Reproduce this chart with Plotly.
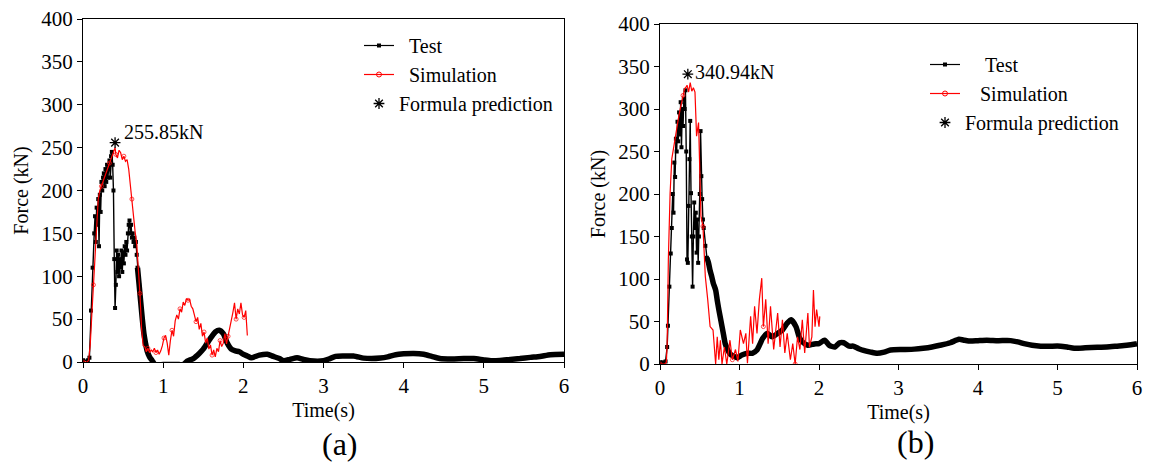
import plotly.graph_objects as go

# ---------------- (a) ----------------
t_test_a = [0, 0.06, 0.08, 0.10, 0.12, 0.14, 0.15, 0.16, 0.17, 0.18,
            0.19, 0.20, 0.21, 0.22, 0.23, 0.24, 0.25, 0.26, 0.27, 0.28,
            0.29, 0.30, 0.31, 0.32, 0.33, 0.34, 0.35, 0.36, 0.37, 0.38,
            0.39, 0.40, 0.41, 0.42, 0.43, 0.44, 0.45, 0.46, 0.47, 0.48,
            0.49, 0.50, 0.51, 0.52, 0.53, 0.54, 0.55, 0.56, 0.57, 0.58,
            0.59, 0.60, 0.61, 0.62, 0.63, 0.64, 0.65, 0.66, 0.67, 0.68,
            0.70, 0.72, 0.74, 0.76, 0.78, 0.80, 0.83, 0.86, 0.90, 1.00,
            1.10, 1.20, 1.25, 1.30, 1.375, 1.45, 1.50, 1.55, 1.60, 1.65,
            1.70, 1.75, 1.80, 1.85, 1.90, 1.95, 2.00, 2.05, 2.10, 2.20,
            2.30, 2.375, 2.45, 2.50, 2.58, 2.67, 2.75, 2.83, 3.00, 3.08,
            3.15, 3.25, 3.375, 3.50, 3.60, 3.71, 3.80, 3.90, 4.00, 4.125,
            4.25, 4.35, 4.45, 4.60, 4.75, 4.875, 5.00, 5.10, 5.20, 5.33,
            5.45, 5.58, 5.70, 5.83, 6.00]
f_test_a = [2, 2, 5, 60, 110, 150, 170, 140, 180, 160,
            190, 135, 195, 175, 210, 200, 215, 220, 205, 225,
            210, 230, 215, 225, 235, 215, 240, 245, 230, 200,
            120, 63, 90, 130, 105, 125, 100, 120, 110, 130,
            105, 128, 115, 135, 125, 140, 130, 150, 160, 165,
            150, 160, 145, 150, 140, 145, 135, 140, 125, 110,
            90, 70, 50, 33, 22, 13, 6, 2, -3, -3,
            -3, -3, -3, 1, 4, 10, 15, 22, 29, 35,
            37, 33, 22, 15, 13, 12, 9, 7, 5, 8,
            9, 6.5, 4, 1.5, 3, 5, 3, 1.5, 1.5, 4,
            6.5, 7, 7, 4.5, 4, 4.6, 6, 8.5, 9.5, 10,
            9, 6.5, 4, 3.5, 4, 4, 2.5, 1.5, 1.8, 3,
            4, 5.4, 6.5, 8.5, 9]

t_sim_a = [0, 0.05, 0.07, 0.09, 0.11, 0.13, 0.15, 0.17, 0.19, 0.21,
           0.23, 0.25, 0.27, 0.29, 0.31, 0.33, 0.35, 0.37, 0.39, 0.40,
           0.41, 0.43, 0.45, 0.47, 0.49, 0.51, 0.53, 0.55, 0.57, 0.59,
           0.61, 0.63, 0.65, 0.67, 0.69, 0.71, 0.73, 0.75, 0.77, 0.79,
           0.81, 0.83, 0.85, 0.87, 0.89, 0.91, 0.93, 0.95, 0.97, 0.99,
           1.01, 1.03, 1.05, 1.07, 1.09, 1.11, 1.13, 1.15, 1.17, 1.19,
           1.21, 1.23, 1.25, 1.27, 1.29, 1.31, 1.33, 1.35, 1.37, 1.39,
           1.41, 1.43, 1.45, 1.47, 1.49, 1.51, 1.53, 1.55, 1.57, 1.59,
           1.61, 1.63, 1.65, 1.67, 1.69, 1.71, 1.73, 1.75, 1.77, 1.79,
           1.81, 1.83, 1.85, 1.87, 1.89, 1.91, 1.93, 1.95, 1.97, 1.99,
           2.01, 2.03, 2.05]
f_sim_a = [0, 0, 2, 20, 55, 90, 120, 160, 190, 200,
           205, 210, 215, 222, 227, 232, 236, 240, 246, 250,
           242, 238, 247, 244, 236, 240, 234, 236, 225, 205,
           190, 172, 152, 138, 110, 80, 40, 19, 18, 12,
           16, 11, 14, 12, 16, 11, 14, 9, 13, 19,
           28, 31, 22, 8, 25, 37, 30, 48, 55, 50,
           62, 58, 70, 66, 74, 72, 73, 65, 62, 55,
           47, 52, 38, 45, 30, 35, 22, 28, 15, 20,
           8, 14, 6, 16, 12, 25, 18, 22, 33, 21,
           30, 40, 45, 58, 69, 50, 62, 56, 69, 55,
           52, 60, 31]

formula_t_a = 0.40
formula_f_a = 255.85

# ---------------- (b) ----------------
t_test_b = [0, 0.04, 0.07, 0.09, 0.10, 0.118, 0.135, 0.148, 0.16, 0.17,
            0.18, 0.19, 0.20, 0.21, 0.22, 0.23, 0.24, 0.25, 0.26, 0.27,
            0.28, 0.29, 0.30, 0.31, 0.32, 0.33, 0.34, 0.35, 0.36, 0.37,
            0.38, 0.39, 0.40, 0.41, 0.42, 0.43, 0.44, 0.45, 0.46, 0.47,
            0.48, 0.49, 0.50, 0.51, 0.52, 0.53, 0.54, 0.55, 0.57, 0.59,
            0.61, 0.63, 0.65, 0.67, 0.70, 0.72, 0.74, 0.76, 0.78, 0.80,
            0.82, 0.85, 0.88, 0.93, 0.97, 1.03, 1.10, 1.16, 1.22, 1.26,
            1.29, 1.35, 1.41, 1.48, 1.54, 1.60, 1.65, 1.71, 1.75, 1.79,
            1.86, 1.94, 2.00, 2.07, 2.13, 2.20, 2.26, 2.31, 2.38, 2.43,
            2.50, 2.56, 2.65, 2.73, 2.82, 2.90, 3.06, 3.20, 3.31, 3.42,
            3.52, 3.65, 3.76, 3.83, 3.90, 4.00, 4.11, 4.25, 4.41, 4.50,
            4.58, 4.68, 4.79, 4.90, 5.04, 5.12, 5.21, 5.35, 5.50, 5.62,
            5.75, 5.87, 5.98, 6.00]
f_test_b = [2, 2, 3, 20, 45, 91, 130, 160, 200, 178,
            237, 220, 265, 250, 285, 262, 296, 270, 308, 255,
            300, 280, 312, 300, 322, 250, 123, 119, 186, 241,
            286, 201, 150, 91, 150, 190, 160, 178, 131, 170,
            119, 150, 200, 274, 221, 194, 170, 160, 139, 125,
            119, 110, 103, 95, 87, 75, 64, 54, 44, 34,
            24, 17, 12, 9, 7.5, 10.6, 12.6, 12.6, 16.5, 24,
            30, 36, 32, 36, 40, 48, 52, 44, 32, 26,
            22, 23.6, 24, 28, 22, 20, 25, 25, 21, 21,
            18, 16, 14, 12.6, 14, 16.5, 17, 17.5, 18.5, 20,
            22, 25, 29, 28, 27, 27.5, 28, 27.5, 27.5, 26,
            24, 22, 21, 21, 21, 20, 18.5, 19, 19.7, 20,
            21, 22, 23.6, 24]

t_sim_b = [0, 0.06, 0.08, 0.09, 0.105, 0.127, 0.148, 0.17, 0.19, 0.21,
           0.23, 0.25, 0.27, 0.29, 0.31, 0.33, 0.34, 0.36, 0.38, 0.40,
           0.42, 0.44, 0.46, 0.485, 0.50, 0.515, 0.54, 0.57, 0.60, 0.63,
           0.667, 0.70, 0.72, 0.74, 0.76, 0.78, 0.81, 0.84, 0.88, 0.91,
           0.95, 0.98, 1.01, 1.05, 1.08, 1.10, 1.14, 1.165, 1.19, 1.22,
           1.25, 1.28, 1.30, 1.33, 1.36, 1.39, 1.43, 1.46, 1.48, 1.51,
           1.54, 1.57, 1.60, 1.64, 1.67, 1.70, 1.73, 1.76, 1.79, 1.82,
           1.86, 1.88, 1.91, 1.93, 1.95, 1.97, 2.00, 2.01]
f_sim_b = [0, 0, 2, 24, 123, 201, 241, 255, 268, 278,
           288, 298, 308, 316, 324, 326, 328, 320, 331, 321,
           325, 320, 268, 284, 237, 174, 162, 103, 76, 44,
           40, 0, 32, 5, 28, 0, 20, 0, 28, 5,
           17, 3, 40, 24, 36, 1, 56, 24, 68, 36,
           76, 101, 44, 76, 24, 68, 17, 44, 60, 20,
           52, 13, 36, 5, 24, 0, 32, 17, 52, 13,
           60, 20, 32, 87, 44, 64, 44, 56]

formula_t_b = 0.35
formula_f_b = 340.94

x_ticks = [0, 1, 2, 3, 4, 5, 6]
y_ticks = [0, 50, 100, 150, 200, 250, 300, 350, 400]

FONT = "Liberation Serif"
W, H = 1152, 462

fig = go.Figure()


def add_panel(xa, ya, lg, t_test, f_test, tail_from, t_sim, f_sim, every,
              ft, ff, nb_test, nb_sim):
    # test head (thin line with square markers)
    n_head = sum(1 for v in t_test if v <= tail_from)
    fig.add_trace(go.Scatter(
        x=t_test[:n_head + 1], y=f_test[:n_head + 1], xaxis=xa, yaxis=ya,
        mode="lines+markers", line=dict(color="black", width=1.4),
        marker=dict(symbol="square", size=4, color="black"),
        showlegend=False, hoverinfo="skip"))
    # test tail (dense record -> thick band)
    fig.add_trace(go.Scatter(
        x=t_test[n_head - 1:], y=f_test[n_head - 1:], xaxis=xa, yaxis=ya,
        mode="lines", line=dict(color="black", width=5.5, shape="spline",
                                smoothing=0.6),
        showlegend=False, hoverinfo="skip"))
    # simulation
    sizes = [4 if i % every == 0 else 0 for i in range(len(t_sim))]
    fig.add_trace(go.Scatter(
        x=t_sim, y=f_sim, xaxis=xa, yaxis=ya, mode="lines+markers",
        line=dict(color="#ff0000", width=1.2),
        marker=dict(symbol="circle-open", size=sizes, color="#ff0000",
                    line=dict(width=1)),
        showlegend=False, hoverinfo="skip"))
    # legend entries
    fig.add_trace(go.Scatter(
        x=[None], y=[None], xaxis=xa, yaxis=ya, mode="lines+markers",
        name="\u00a0" * nb_test + "Test", legend=lg,
        line=dict(color="black", width=1.2),
        marker=dict(symbol="square", size=4, color="black")))
    fig.add_trace(go.Scatter(
        x=[None], y=[None], xaxis=xa, yaxis=ya, mode="lines+markers",
        name="\u00a0" * nb_sim + "Simulation", legend=lg,
        line=dict(color="#ff0000", width=1.2),
        marker=dict(symbol="circle-open", size=5, color="#ff0000",
                    line=dict(width=1))))
    fig.add_trace(go.Scatter(
        x=[ft], y=[ff], xaxis=xa, yaxis=ya, mode="markers",
        name="Formula prediction", legend=lg,
        marker=dict(symbol="asterisk-open", size=9, color="black",
                    line=dict(width=1.3, color="black")),
        hoverinfo="skip"))


add_panel("x", "y", "legend", t_test_a, f_test_a, 0.68, t_sim_a, f_sim_a, 5,
          formula_t_a, formula_f_a, 2, 2)
add_panel("x2", "y2", "legend2", t_test_b, f_test_b, 0.59, t_sim_b, f_sim_b, 13,
          formula_t_b, formula_f_b, 4, 3)

fig.add_annotation(x=formula_t_a, y=formula_f_a, xref="x", yref="y",
                   text=f"{formula_f_a}kN", showarrow=False, xanchor="left",
                   yanchor="middle", xshift=7, yshift=11,
                   font=dict(family=FONT, size=20, color="black"))
fig.add_annotation(x=formula_t_b, y=formula_f_b, xref="x2", yref="y2",
                   text=f"{formula_f_b}kN", showarrow=False, xanchor="left",
                   yanchor="middle", xshift=5, yshift=2,
                   font=dict(family=FONT, size=20, color="black"))

fig.add_annotation(x=340 / W, y=1 - 444 / H, xref="paper", yref="paper",
                   text="(a)", showarrow=False, xanchor="center",
                   yanchor="middle", font=dict(family=FONT, size=32, color="black"))
fig.add_annotation(x=915 / W, y=1 - 442 / H, xref="paper", yref="paper",
                   text="(b)", showarrow=False, xanchor="center",
                   yanchor="middle", font=dict(family=FONT, size=32, color="black"))

axis_common = dict(showline=True, linecolor="black", linewidth=1.2,
                   mirror=True, ticks="outside", ticklen=5, tickwidth=1.2,
                   tickcolor="black", showgrid=False, zeroline=False,
                   automargin=False,
                   tickfont=dict(family=FONT, size=21, color="black"))

xcommon = dict(axis_common, range=[0, 6], tickvals=x_ticks,
               ticktext=[str(v) for v in x_ticks],
               title=dict(text="Time(s)", standoff=5,
                          font=dict(family=FONT, size=20, color="black")))
ycommon = dict(axis_common, range=[0, 400], tickvals=y_ticks,
               ticktext=[str(v) for v in y_ticks],
               title=dict(text="Force (kN)", standoff=7,
                          font=dict(family=FONT, size=20, color="black")))

fig.update_layout(
    width=W, height=H,
    margin=dict(l=0, r=0, t=0, b=0, autoexpand=False),
    paper_bgcolor="white", plot_bgcolor="white",
    xaxis=dict(xcommon, domain=[83 / W, 564 / W], anchor="y"),
    yaxis=dict(ycommon, domain=[(H - 362) / H, (H - 19) / H], anchor="x"),
    xaxis2=dict(xcommon, domain=[660 / W, 1137 / W], anchor="y2"),
    yaxis2=dict(ycommon, domain=[(H - 364) / H, (H - 24) / H], anchor="x2"),
    legend=dict(x=359 / W, y=1 - 26 / H, xanchor="left", yanchor="top",
                bgcolor="rgba(0,0,0,0)", borderwidth=0,
                font=dict(family=FONT, size=20, color="black"),
                tracegroupgap=0),
    legend2=dict(x=925 / W, y=1 - 45 / H, xanchor="left", yanchor="top",
                 bgcolor="rgba(0,0,0,0)", borderwidth=0,
                 font=dict(family=FONT, size=20, color="black"),
                 tracegroupgap=0),
    showlegend=True,
)

fig.write_html("out.html")
